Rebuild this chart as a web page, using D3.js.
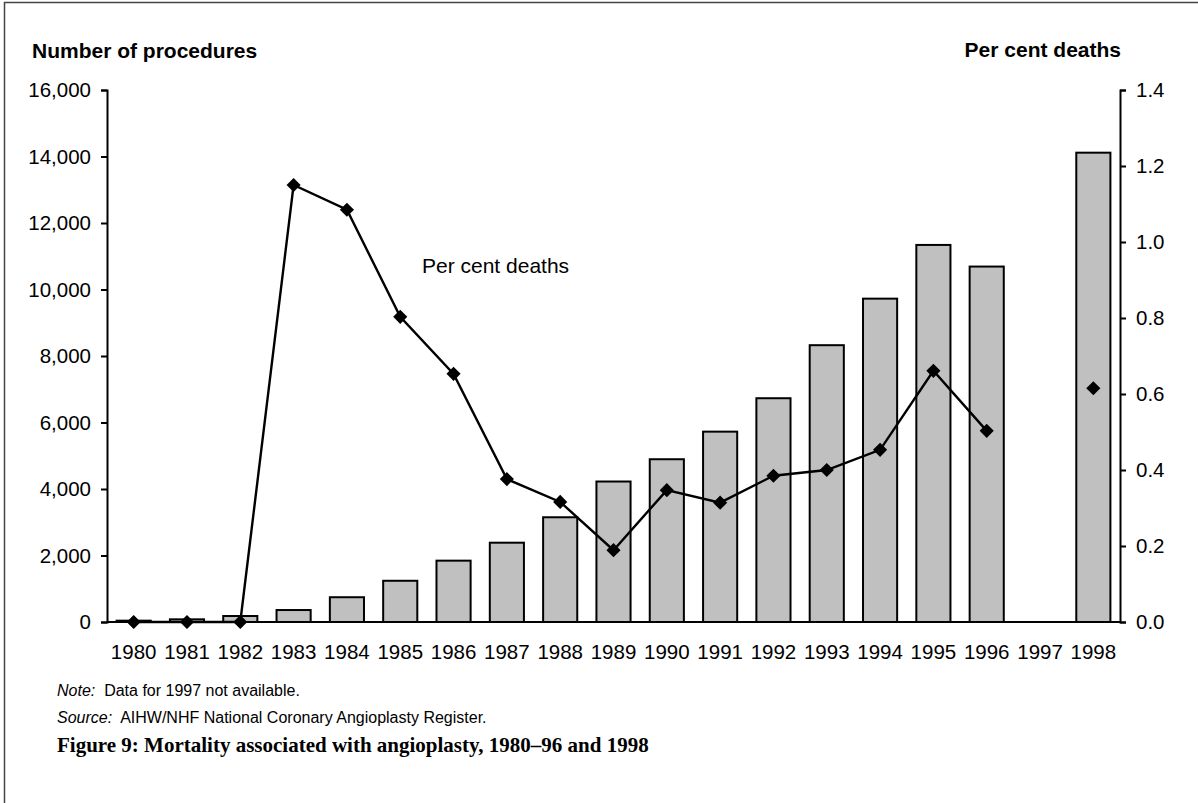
<!DOCTYPE html>
<html>
<head>
<meta charset="utf-8">
<script src="https://cdn.jsdelivr.net/npm/d3@7"></script>
<style>
  html, body { margin: 0; padding: 0; background: #fff; }
  svg { display: block; }
</style>
</head>
<body>
<svg id="chart" width="1198" height="803"></svg>
<script>
// Angioplasty procedures and mortality, Australia
const years = ["1980","1981","1982","1983","1984","1985","1986","1987","1988","1989",
               "1990","1991","1992","1993","1994","1995","1996","1997","1998"];
// Number of procedures (null = not available)
const procedures = [40, 80, 180, 360, 745, 1240, 1845, 2385, 3150, 4225,
                    4895, 5725, 6730, 8325, 9725, 11340, 10690, null, 14115];
// Per cent deaths (null = not available)
const pctDeaths = [0.0, 0.0, 0.0, 1.15, 1.085, 0.803, 0.653, 0.376, 0.316, 0.189,
                   0.347, 0.314, 0.385, 0.40, 0.453, 0.661, 0.503, null, 0.615];
const leftTicks = [0, 2000, 4000, 6000, 8000, 10000, 12000, 14000, 16000];
const rightTicks = [0.0, 0.2, 0.4, 0.6, 0.8, 1.0, 1.2, 1.4];

const SANS = '"Liberation Sans", Arial, Helvetica, sans-serif';
const SERIF = '"Liberation Serif", "DejaVu Serif", "Times New Roman", serif';

const svg = d3.select("#chart");
const W = 1198, H = 803;
const plot = { left: 107, right: 1120, top: 90, bottom: 622 };

// outer frame
svg.append("rect")
  .attr("x", 4.5).attr("y", 2.5)
  .attr("width", W + 20).attr("height", H + 20)
  .attr("fill", "none").attr("stroke", "#444").attr("stroke-width", 1.5);

const x = d3.scaleBand().domain(years)
  .range([plot.left, plot.right]).paddingInner(0.36).paddingOuter(0.18);
const xc = d => x(d) + x.bandwidth() / 2;
const yL = d3.scaleLinear().domain([0, 16000]).range([plot.bottom, plot.top]);
const yR = d3.scaleLinear().domain([0, 1.4]).range([plot.bottom, plot.top]);

// bars
const barData = years.map((y, i) => ({ year: y, v: procedures[i] })).filter(d => d.v != null);
svg.append("g").selectAll("rect").data(barData).join("rect")
  .attr("x", d => x(d.year))
  .attr("width", x.bandwidth())
  .attr("y", d => yL(d.v))
  .attr("height", d => yL(0) - yL(d.v))
  .attr("fill", "#c0c0c0")
  .attr("stroke", "#000")
  .attr("stroke-width", 2);

function styleAxis(g) {
  g.select(".domain").attr("stroke", "#000").attr("stroke-width", 2);
  g.selectAll(".tick line").attr("stroke", "#000").attr("stroke-width", 2);
  g.selectAll(".tick text")
    .style("font-family", SANS).style("font-size", "20.5px").attr("fill", "#000");
}

// left axis
svg.append("g").attr("transform", `translate(${plot.left},0)`)
  .call(d3.axisLeft(yL).tickValues(leftTicks).tickSize(6).tickPadding(10)
    .tickFormat(d3.format(",")))
  .call(styleAxis);
// right axis
svg.append("g").attr("transform", `translate(${plot.right},0)`)
  .call(d3.axisRight(yR).tickValues(rightTicks).tickSize(6).tickPadding(10)
    .tickFormat(d3.format(".1f")))
  .call(styleAxis);

// category axis along the baseline
const axB = svg.append("g").attr("transform", `translate(0,${plot.bottom})`)
  .call(d3.axisBottom(x).tickSize(0).tickPadding(22))
  .call(styleAxis);
axB.select(".domain").attr("d", `M${plot.left},0H${plot.right}`);

// per cent deaths line (broken where data are missing)
const lineData = years.map((y, i) => ({ year: y, v: pctDeaths[i] }));
const line = d3.line().defined(d => d.v != null)
  .x(d => xc(d.year)).y(d => yR(d.v));
svg.append("path").datum(lineData)
  .attr("d", line).attr("fill", "none")
  .attr("stroke", "#000").attr("stroke-width", 2.4);

const diamond = d3.symbol(d3.symbolSquare).size(100);
svg.append("g").selectAll("path").data(lineData.filter(d => d.v != null)).join("path")
  .attr("d", diamond)
  .attr("transform", d => `translate(${xc(d.year)},${yR(d.v)}) rotate(45)`)
  .attr("fill", "#000");

// text helpers
function label(xp, yp, txt, size, opts = {}) {
  return svg.append("text").attr("x", xp).attr("y", yp)
    .attr("text-anchor", opts.anchor || "start")
    .style("font-family", opts.family || SANS)
    .style("font-size", size + "px")
    .style("font-weight", opts.weight || "normal")
    .attr("fill", "#000")
    .text(txt);
}

// axis titles
label(32, 58, "Number of procedures", 21, { weight: "bold" });
label(1121, 57, "Per cent deaths", 21, { weight: "bold", anchor: "end" });

// series label
label(422, 273, "Per cent deaths", 21);

// notes
const note = label(57, 696, "", 16);
note.append("tspan").style("font-style", "italic").text("Note:");
note.append("tspan").text("\u00a0 Data for 1997 not available.");
const src = label(57, 723, "", 16);
src.append("tspan").style("font-style", "italic").text("Source:");
src.append("tspan").text("\u00a0 AIHW/NHF National Coronary Angioplasty Register.");

label(57, 752, "Figure 9: Mortality associated with angioplasty, 1980\u201396 and 1998", 21,
  { weight: "bold", family: SERIF });
</script>
</body>
</html>
